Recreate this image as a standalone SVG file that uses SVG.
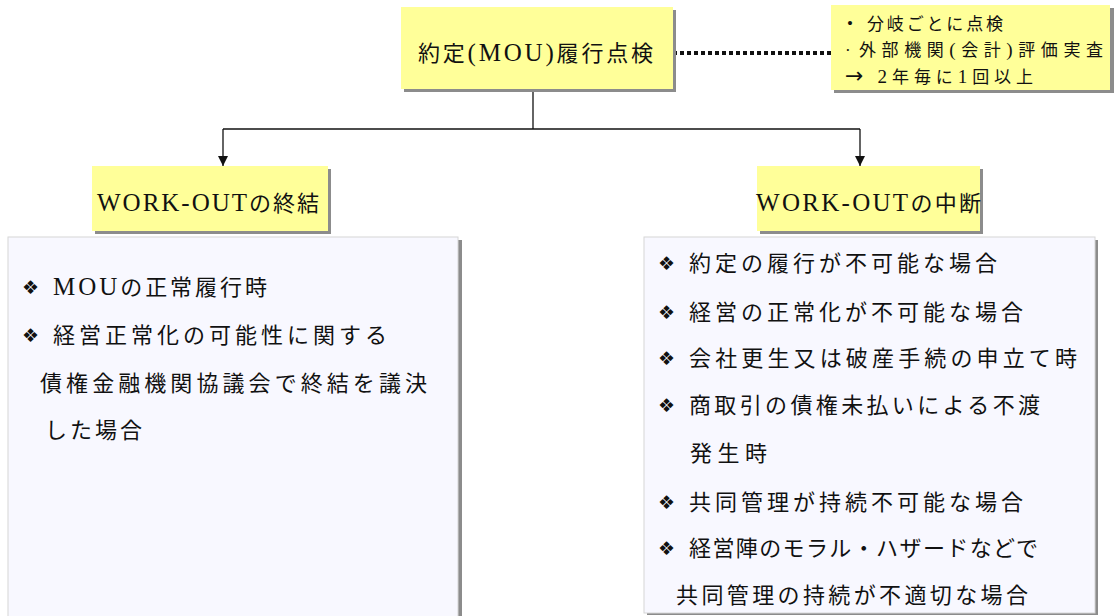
<svg xmlns="http://www.w3.org/2000/svg" width="1115" height="616" viewBox="0 0 1115 616">
<style>
.y{fill:#ffff99}
.sh{fill:#8c8c8c}
.pn{fill:#f8f8ff;stroke:#d6d6d6;stroke-width:1}
.t{font-family:"Liberation Serif","Noto Sans CJK JP",serif;fill:#111}
.b{font-size:22px}
.n{font-size:17px}
.c{font-size:22px}
.L{font-size:25px}
.Ln{font-size:19px}
.bl{font-family:"DejaVu Sans",sans-serif;font-size:19px;fill:#111}
.ln{stroke:#111;stroke-width:1.3;fill:none}
</style>
<defs>
<marker id="ah" viewBox="0 0 10 10" refX="10" refY="5" markerWidth="10" markerHeight="10" markerUnits="userSpaceOnUse" orient="auto">
<path d="M0,0 L10,5 L0,10 z" fill="#111"/>
</marker>
</defs>
<rect width="1115" height="616" fill="#fff"/>
<g id="connectors">
<line x1="673" y1="53" x2="831" y2="53" stroke="#111" stroke-width="4" stroke-dasharray="4 3"/>
<path class="ln" d="M533,89 V129"/>
<path class="ln" d="M223,129 H860"/>
<path class="ln" d="M223,129 V166" marker-end="url(#ah)"/>
<path class="ln" d="M860,129 V166" marker-end="url(#ah)"/>
</g>
<g id="node-top">
<rect class="sh" x="404" y="10" width="272" height="82"/>
<rect class="y" x="401" y="7" width="272" height="82"/>
<text class="t b" x="418" y="61" textLength="235" lengthAdjust="spacing">約定<tspan class="L">(MOU)</tspan>履行点検</text>
</g>
<g id="node-note">
<rect class="sh" x="834" y="8" width="280" height="85"/>
<rect class="y" x="831" y="5" width="279" height="85"/>
<text class="t n" x="847" y="29">•</text>
<text class="t n" x="867" y="30" textLength="136" lengthAdjust="spacing">分岐ごとに点検</text>
<text class="t n" x="845" y="56">·</text>
<text class="t n" x="859" y="56" textLength="244" lengthAdjust="spacing">外部機関<tspan class="Ln">(</tspan>会計<tspan class="Ln">)</tspan>評価実査</text>
<text class="t n" x="845" y="83" textLength="188" lengthAdjust="spacing"><tspan font-size="22" font-family="DejaVu Sans">→</tspan> <tspan class="Ln">2</tspan>年毎に<tspan class="Ln">1</tspan>回以上</text>
</g>
<g id="node-end-title">
<rect class="sh" x="95" y="169" width="236" height="65"/>
<rect class="y" x="92" y="166" width="236" height="65"/>
<text class="t c" x="97" y="211" textLength="222" lengthAdjust="spacing"><tspan class="L">WORK-OUT</tspan>の終結</text>
</g>
<g id="node-stop-title">
<rect class="sh" x="760" y="169" width="223" height="65"/>
<rect class="y" x="757" y="166" width="223" height="65"/>
<text class="t c" x="756" y="211" textLength="225" lengthAdjust="spacing"><tspan class="L">WORK-OUT</tspan>の中断</text>
</g>
<g id="node-end-list">
<rect class="sh" x="11" y="240" width="451" height="380"/>
<rect class="pn" x="8" y="237" width="450" height="383"/>
<text class="bl" x="22" y="294">❖</text>
<text class="t c" x="53" y="295" textLength="214" lengthAdjust="spacing"><tspan class="L">MOU</tspan>の正常履行時</text>
<text class="bl" x="22" y="342">❖</text>
<text class="t c" x="53" y="343" textLength="334" lengthAdjust="spacing">経営正常化の可能性に関する</text>
<text class="t c" x="40" y="391" textLength="387" lengthAdjust="spacing">債権金融機関協議会で終結を議決</text>
<text class="t c" x="45" y="438" textLength="97" lengthAdjust="spacing">した場合</text>
</g>
<g id="node-stop-list">
<rect class="sh" x="647" y="240" width="451" height="375"/>
<rect class="pn" x="644" y="237" width="451" height="376"/>
<text class="bl" x="658" y="270">❖</text>
<text class="t c" x="689" y="271" textLength="308" lengthAdjust="spacing">約定の履行が不可能な場合</text>
<text class="bl" x="658" y="319">❖</text>
<text class="t c" x="689" y="320" textLength="334" lengthAdjust="spacing">経営の正常化が不可能な場合</text>
<text class="bl" x="658" y="365">❖</text>
<text class="t c" x="689" y="366" textLength="388" lengthAdjust="spacing">会社更生又は破産手続の申立て時</text>
<text class="bl" x="658" y="412">❖</text>
<text class="t c" x="689" y="413" textLength="351" lengthAdjust="spacing">商取引の債権未払いによる不渡</text>
<text class="t c" x="690" y="461" textLength="77" lengthAdjust="spacing">発生時</text>
<text class="bl" x="658" y="509">❖</text>
<text class="t c" x="689" y="510" textLength="334" lengthAdjust="spacing">共同管理が持続不可能な場合</text>
<text class="bl" x="658" y="555">❖</text>
<text class="t c" x="689" y="556" textLength="349" lengthAdjust="spacing">経営陣のモラル・ハザードなどで</text>
<text class="t c" x="676" y="603" textLength="352" lengthAdjust="spacing">共同管理の持続が不適切な場合</text>
</g>
</svg>
